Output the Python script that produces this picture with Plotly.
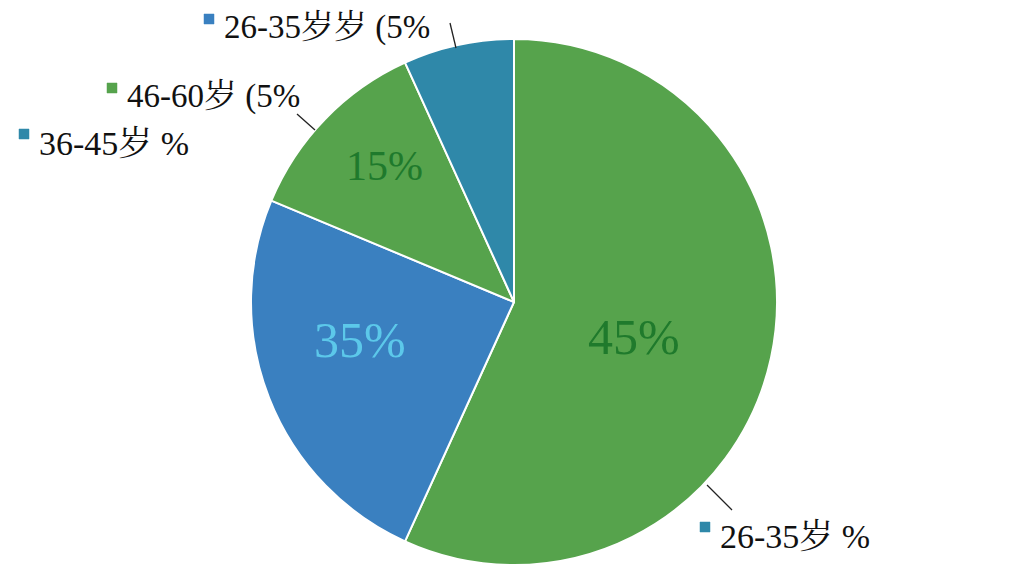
import plotly.graph_objects as go

# slices clockwise from 12 o'clock
slice_labels = ['26-35岁', '36-45岁', '46-60岁', '26-35岁岁']
slice_values = [56.8, 24.5, 11.9, 6.8]
slice_colors = ['#56a34c', '#3a80c0', '#56a34c', '#2f88a9']

# text printed on the slices (as in the original picture)
inner_text = ['45%', '35%', '15%', '']
inner_colors = ['#1f7a2c', '#5cc8ea', '#1f7a2c', '#ffffff']

# outside labels
outer_text = ['26-35岁 %', '36-45岁 %', '46-60岁 (5%', '26-35岁岁 (5%']
outer_marker = ['#2f88a9', '#2f88a9', '#56a34c', '#3a80c0']

W, H = 1024, 576
OFF = 8  # page body margin
FONT = 'Liberation Serif, Noto Serif CJK SC, Noto Sans CJK SC, serif'


def px(x):
    return (x - OFF) / W


def py(y):
    return 1 - (y - OFF) / H


fig = go.Figure()
fig.add_trace(go.Pie(labels=slice_labels, values=slice_values,
                     marker=dict(colors=slice_colors, line=dict(color='white', width=2)),
                     sort=False, direction='clockwise', rotation=0,
                     textinfo='none', hoverinfo='label+percent',
                     domain=dict(x=[px(250), px(778)], y=[py(565), py(39)]),
                     showlegend=False))

# label positions (pixels) for inner and outer text
inner_pos = [(634, 337, 50), (360, 340, 50), (384, 166, 42)]
for (x, y, s), t, c in zip(inner_pos, inner_text, inner_colors):
    fig.add_annotation(x=px(x), y=py(y), xref='paper', yref='paper', text=t,
                       xanchor='center', yanchor='middle', showarrow=False,
                       font=dict(family=FONT, size=s, color=c))

outer_pos = [(718, 536, 34), (37, 143, 34), (125, 97, 33), (222, 28, 33)]
for (x, y, s), t, c in zip(outer_pos, outer_text, outer_marker):
    fig.add_annotation(x=px(x), y=py(y), xref='paper', yref='paper', text=t,
                       xanchor='left', yanchor='middle', showarrow=False,
                       font=dict(family=FONT, size=s, color='#111111'))
    fig.add_shape(type='rect', xref='paper', yref='paper',
                  x0=px(x - 18), x1=px(x - 8), y0=py(y - 4), y1=py(y - 14),
                  fillcolor=c, line=dict(color=c, width=0.5))

# leader lines
leaders = [((707, 485), (732, 510)), ((297, 114), (315, 130)), ((450, 23), (456, 48))]
for (x0, y0), (x1, y1) in leaders:
    fig.add_shape(type='line', xref='paper', yref='paper',
                  x0=px(x0), y0=py(y0), x1=px(x1), y1=py(y1),
                  line=dict(color='#222222', width=1.3))

fig.update_layout(width=W, height=H, margin=dict(l=0, r=0, t=0, b=0),
                  paper_bgcolor='white', plot_bgcolor='white')

fig.write_html("out.html")
